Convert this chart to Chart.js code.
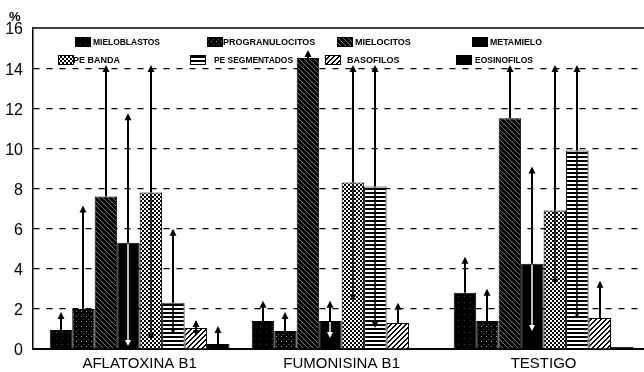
<!DOCTYPE html>
<html><head><meta charset="utf-8">
<script src="https://cdn.jsdelivr.net/npm/chart.js@4.4.0/dist/chart.umd.min.js"></script>
<style>html,body{margin:0;padding:0;background:#fff;overflow:hidden}#wrap{width:644px;height:372px;position:relative}</style>
</head><body><div id="wrap"><canvas id="c" width="644" height="372"></canvas></div>
<script>
// ---- data ----
const categories = ['AFLATOXINA B1', 'FUMONISINA B1', 'TESTIGO'];
const seriesNames = ['MIELOBLASTOS', 'PROGRANULOCITOS', 'MIELOCITOS', 'METAMIELO', 'PE BANDA', 'PE SEGMENTADOS', 'BASOFILOS', 'EOSINOFILOS'];
const mieloblastos    = [0.95, 1.4, 2.8];
const progranulocitos = [2.0, 0.9, 1.4];
const mielocitos      = [7.6, 14.5, 11.5];
const metamielo       = [5.3, 1.4, 4.25];
const peBanda         = [7.8, 8.3, 6.9];
const peSegmentados   = [2.3, 8.1, 9.9];
const basofilos       = [1.05, 1.3, 1.55];
const eosinofilos     = [0.25, 0, 0.1];
// error-bar ends (upper / lower), null = not drawn
const mieloblastosHi    = [1.8, 2.35, 4.55];
const progranulocitosHi = [7.1, 1.8, 2.95];
const mielocitosHi      = [14.1, 14.85, 14.1];
const metamieloHi       = [11.7, 2.35, 9.05];
const peBandaHi         = [14.1, 14.1, 14.1];
const peSegmentadosHi   = [5.95, 14.1, 14.1];
const basofilosHi       = [1.4, 2.25, 3.35];
const eosinofilosHi     = [1.1, null, null];
const metamieloLo       = [0.2, 0.6, 0.95];
const peBandaLo         = [0.5, 2.45, 3.25];
const peSegmentadosLo   = [0.8, 1.1, 1.6];
const basofilosLo       = [0.7, null, null];
const noLo              = [null, null, null];
const yTickValues = [0, 2, 4, 6, 8, 10, 12, 14, 16];

// ---- patterns ----
const mainCtx = document.getElementById('c').getContext('2d');
function makePattern(w, h, draw) {
  const c = document.createElement('canvas'); c.width = w; c.height = h;
  const g = c.getContext('2d'); draw(g, w, h);
  return mainCtx.createPattern(c, 'repeat');
}
const pats = [
  makePattern(6, 6, (g) => { g.fillStyle = '#000'; g.fillRect(0,0,6,6); g.fillStyle = '#444'; g.fillRect(2,2,1,1); }),
  makePattern(5, 5, (g) => { g.fillStyle = '#000'; g.fillRect(0,0,5,5); g.fillStyle = '#999'; g.fillRect(1,1,1,1); g.fillStyle='#555'; g.fillRect(3,4,1,1); }),
  makePattern(5, 5, (g) => { g.fillStyle = '#000'; g.fillRect(0,0,5,5); g.fillStyle = '#777'; for (let i=0;i<5;i++) g.fillRect(i,i,1,1); }),
  '#000',
  makePattern(4, 4, (g) => { g.fillStyle = '#fff'; g.fillRect(0,0,4,4); g.fillStyle = '#000'; g.fillRect(0,0,2,2); g.fillRect(2,2,2,2); }),
  makePattern(4, 4, (g) => { g.fillStyle = '#fff'; g.fillRect(0,0,4,4); g.fillStyle = '#000'; g.fillRect(0,0,4,2); }),
  makePattern(5, 5, (g) => { g.fillStyle = '#fff'; g.fillRect(0,0,5,5); g.fillStyle = '#000'; for (let i=0;i<5;i++){ g.fillRect(i,4-i,1,1); g.fillRect((i+1)%5,4-i,1,1);} }),
  '#000'
];

const values = [mieloblastos, progranulocitos, mielocitos, metamielo, peBanda, peSegmentados, basofilos, eosinofilos];
const his = [mieloblastosHi, progranulocitosHi, mielocitosHi, metamieloHi, peBandaHi, peSegmentadosHi, basofilosHi, eosinofilosHi];
const los = [noLo, noLo, noLo, metamieloLo, peBandaLo, peSegmentadosLo, basofilosLo, noLo];
const loColors = ['#000', '#000', '#000', '#fff', '#000', '#000', '#000', '#000'];

const datasets = seriesNames.map((name, k) => ({
  label: name,
  data: values[k].map((v, i) => ({ x: i, y: v })),
  backgroundColor: pats[k],
  borderColor: '#000',
  borderWidth: 1,
  errHi: his[k], errLo: los[k], errLoColor: loColors[k]
}));

const FONT = '"Liberation Sans", Arial, Helvetica, sans-serif';

const errorBars = {
  id: 'errorBars',
  afterDatasetsDraw(chart) {
    const ctx = chart.ctx, ys = chart.scales.y;
    chart.data.datasets.forEach((ds, di) => {
      const meta = chart.getDatasetMeta(di);
      meta.data.forEach((bar, i) => {
        const x = Math.round(bar.x), top = bar.y;
        const hi = ds.errHi[i], lo = ds.errLo[i];
        ctx.save();
        if (hi != null) {
          const yh = ys.getPixelForValue(hi);
          ctx.strokeStyle = '#000'; ctx.lineWidth = 2;
          ctx.beginPath(); ctx.moveTo(x, top); ctx.lineTo(x, yh + 4); ctx.stroke();
          ctx.fillStyle = '#000';
          ctx.beginPath(); ctx.moveTo(x, yh - 1); ctx.lineTo(x - 3.5, yh + 6); ctx.lineTo(x + 3.5, yh + 6); ctx.closePath(); ctx.fill();
        }
        if (lo != null) {
          const yl = ys.getPixelForValue(lo);
          ctx.strokeStyle = ds.errLoColor; ctx.fillStyle = ds.errLoColor; ctx.lineWidth = 1.5;
          ctx.beginPath(); ctx.moveTo(x, top + 1); ctx.lineTo(x, yl - 3); ctx.stroke();
          ctx.beginPath(); ctx.moveTo(x, yl + 1); ctx.lineTo(x - 3, yl - 5); ctx.lineTo(x + 3, yl - 5); ctx.closePath(); ctx.fill();
        }
        ctx.restore();
      });
    });
  }
};

const legendPos = [
  { bx: 75, tx: 93, y: 42, w: 67 }, { bx: 207, tx: 223, y: 42, w: 95 },
  { bx: 337, tx: 355, y: 42, w: 57 }, { bx: 472, tx: 490, y: 42, w: 52 },
  { bx: 58, tx: 73, y: 60, w: 49 }, { bx: 190, tx: 214, y: 60, w: 79 },
  { bx: 325, tx: 347, y: 60, w: 55 }, { bx: 456, tx: 475, y: 60, w: 58 }
];
const customLegend = {
  id: 'customLegend',
  afterDraw(chart) {
    const ctx = chart.ctx;
    ctx.save();
    chart.data.datasets.forEach((ds, k) => {
      const p = legendPos[k];
      ctx.fillStyle = ds.backgroundColor;
      ctx.fillRect(p.bx, p.y - 5, 16, 10);
      ctx.strokeStyle = '#000'; ctx.lineWidth = 1;
      ctx.strokeRect(p.bx + 0.5, p.y - 4.5, 15, 9);
      ctx.fillStyle = '#000';
      ctx.font = 'bold 9px ' + FONT;
      ctx.textBaseline = 'middle'; ctx.textAlign = 'left';
      ctx.fillText(ds.label, p.tx, p.y + 0.5, p.w);
    });
    // top frame line and % label
    const a = chart.chartArea;
    ctx.strokeStyle = '#000'; ctx.lineWidth = 1.5;
    ctx.beginPath(); ctx.moveTo(a.left, a.top); ctx.lineTo(a.right, a.top); ctx.stroke();
    ctx.font = 'bold 13px ' + FONT; ctx.textBaseline = 'alphabetic';
    ctx.fillText('%', 9, 21);
    ctx.restore();
  }
};

new Chart(document.getElementById('c'), {
  type: 'bar',
  data: { datasets },
  options: {
    responsive: false, animation: false, devicePixelRatio: 1,
    layout: { padding: { top: 28, left: 0, right: 0, bottom: 0 } },
    datasets: { bar: { categoryPercentage: 0.89, barPercentage: 1.0 } },
    plugins: { legend: { display: false }, tooltip: { enabled: false } },
    scales: {
      x: {
        type: 'linear', min: -0.528, max: 2.497, offset: false,
        afterBuildTicks: (s) => { s.ticks = categories.map((_, i) => ({ value: i })); },
        afterFit: (s) => { s.height = 23; },
        ticks: { callback: (v) => categories[v] ?? '', color: '#000', font: { family: FONT, size: 15 }, padding: 6, maxRotation: 0, autoSkip: false },
        grid: { display: false, drawTicks: false },
        border: { display: true, color: '#000', width: 2 }
      },
      y: {
        min: 0, max: 16,
        afterBuildTicks: (s) => { s.ticks = yTickValues.map(v => ({ value: v })); },
        afterFit: (s) => { s.width = 33; },
        ticks: { color: '#000', font: { family: FONT, size: 16 }, padding: 10, labelOffset: 2 },
        grid: { drawTicks: false, lineWidth: 1.2, color: (c) => (c.tick && (c.tick.value === 0 || c.tick.value === 16)) ? 'rgba(0,0,0,0)' : '#000' },
        border: { display: true, color: '#000', width: 1.5, dash: [6, 7] }
      }
    }
  },
  plugins: [errorBars, customLegend]
});
</script></body></html>
